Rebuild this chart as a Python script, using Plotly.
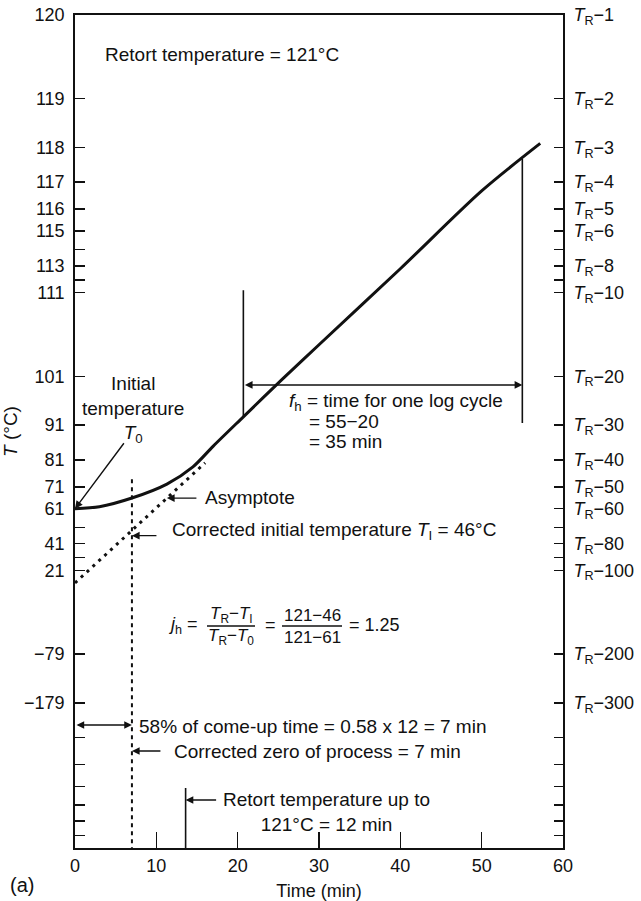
import numpy as np
import plotly.graph_objects as go

T_R = 121  # retort temperature, °C

# Heat-penetration curve (time in min, temperature in °C)
curve_time = [0, 3, 7, 11.3, 14.5, 17, 20.7, 25.4, 30, 40, 50, 57.2]
curve_temp = [61, 62.0, 66.1, 72.1, 78.6, 85.3, 93.0, 100.4, 105.6, 112.8, 116.7, 118.1]

# Asymptote (extrapolated straight-line part of the curve)
asym_time = [0, 16]
asym_temp = [10, 80]

# Vertical reference lines
axis_bottom_temp = T_R - 1000
corr_zero_time = [7, 7]
corr_zero_temp = [74, axis_bottom_temp]
retort_up_time = [13.6, 13.6]
retort_up_temp = [-487, axis_bottom_temp]
fh_left_time = [20.7, 20.7]
fh_left_temp = [111.2, 93.0]
fh_right_time = [55, 55]
fh_right_temp = [117.7, 91.5]
fh_arrow_temp = 99.5
T0 = 61
TI = 46
asym_arrow_time = 11.3

# Axis ticks
tick_diff = [1, 2, 3, 4, 5, 6, 7, 8, 9, 10, 20, 30, 40, 50, 60, 70, 80, 90, 100,
             200, 300, 400, 500, 600, 700, 800, 900]
left_tick_labels = ["120", "119", "118", "117", "116", "115", "", "113", "", "111",
                    "101", "91", "81", "71", "61", "", "41", "", "21",
                    "−79", "−179", "", "", "", "", "", ""]
right_tick_numbers = ["1", "2", "3", "4", "5", "6", "", "8", "", "10",
                      "20", "30", "40", "50", "60", "", "80", "", "100",
                      "200", "300", "", "", "", "", "", ""]
right_tick_labels = [("<i>T</i><sub>R</sub>−" + n) if n else "" for n in right_tick_numbers]
time_ticks = [0, 10, 20, 30, 40, 50, 60]
time_tick_labels = ["0", "10", "20", "30", "40", "50", "60"]

INK = "#111111"
FONT = "Liberation Sans, Arial, Helvetica, sans-serif"

def diff(temps):
    return [T_R - t for t in temps]

fig = go.Figure()

# main heating curve
fig.add_trace(go.Scatter(x=curve_time, y=diff(curve_temp), mode="lines",
                         line=dict(color=INK, width=3, shape="spline", smoothing=0.8),
                         hoverinfo="skip"))
# asymptote
fig.add_trace(go.Scatter(x=asym_time, y=diff(asym_temp), mode="lines",
                         line=dict(color=INK, width=3, dash="3px,5px"), hoverinfo="skip"))
# corrected zero (dotted vertical)
fig.add_trace(go.Scatter(x=corr_zero_time, y=diff(corr_zero_temp), mode="lines",
                         line=dict(color=INK, width=2, dash="4px,4px"), hoverinfo="skip"))
# retort-up line
fig.add_trace(go.Scatter(x=retort_up_time, y=diff(retort_up_temp), mode="lines",
                         line=dict(color=INK, width=1.6), hoverinfo="skip"))
# fh verticals
fig.add_trace(go.Scatter(x=fh_left_time, y=diff(fh_left_temp), mode="lines",
                         line=dict(color=INK, width=1.6), hoverinfo="skip"))
fig.add_trace(go.Scatter(x=fh_right_time, y=diff(fh_right_temp), mode="lines",
                         line=dict(color=INK, width=1.6), hoverinfo="skip"))
# invisible trace to carry the right-hand axis
fig.add_trace(go.Scatter(x=curve_time, y=diff(curve_temp), yaxis="y2", mode="lines",
                         line=dict(color="rgba(0,0,0,0)", width=0), hoverinfo="skip"))

PL, PR, PT, PB = 75, 563, 15, 848
W, H = 641, 901

def px(x):
    return (x - PL) / (PR - PL)

def py(y):
    return (PB - y) / (PB - PT)

def txt(text, x, y, anchor="left", size=19, align="left"):
    fig.add_annotation(text=text, x=px(x), y=py(y), xref="paper", yref="paper",
                       xanchor=anchor, yanchor="middle", showarrow=False, align=align,
                       font=dict(size=size, color=INK, family=FONT))

ARROW = dict(showarrow=True, arrowhead=2, arrowsize=1.1, arrowwidth=1.4, arrowcolor=INK, text="")

# arrows pointing at data features
fig.add_annotation(x=0, y=np.log10(T_R - T0), xref="x", yref="y", ax=50, ay=-67, **ARROW)
asym_log = np.interp(asym_arrow_time, asym_time, np.log10(diff(asym_temp)))
fig.add_annotation(x=asym_arrow_time, y=asym_log, xref="x", yref="y", ax=31, ay=0, **ARROW)
fig.add_annotation(x=corr_zero_time[0], y=np.log10(T_R - TI), xref="x", yref="y", ax=26, ay=0, **ARROW)
fig.add_annotation(x=fh_right_time[0], y=np.log10(T_R - fh_arrow_temp), xref="x", yref="y",
                   ax=fh_left_time[0], axref="x", ay=np.log10(T_R - fh_arrow_temp), ayref="y",
                   arrowside="end+start", **ARROW)
fig.add_annotation(x=corr_zero_time[0], y=py(725), xref="x", yref="paper",
                   ax=0, axref="x", ay=0, ayref="pixel", arrowside="end+start", **ARROW)
fig.add_annotation(x=corr_zero_time[0], y=py(751), xref="x", yref="paper", ax=30, ay=0, **ARROW)
fig.add_annotation(x=retort_up_time[0], y=py(800), xref="x", yref="paper", ax=32, ay=0, **ARROW)

# text
txt("Retort temperature = 121°C", 103, 55)
txt("Initial<br>temperature<br><i>T</i><sub>0</sub>", 133, 410, anchor="center", align="center")
txt("Asymptote", 203, 497)
txt("Corrected initial temperature <i>T</i><sub>I</sub> = 46°C", 170, 531)
txt("<i>f</i><sub>h</sub> = time for one log cycle", 287, 402)
txt("= 55−20", 307, 422)
txt("= 35 min", 307, 442)
txt("58% of come-up time = 0.58 x 12 = 7 min", 137, 726)
txt("Corrected zero of process = 7 min", 172, 751)
txt("Retort temperature up to<br>121°C = 12 min", 326, 812, anchor="center", align="center")
txt("(a)", 8, 885, size=20)

# j_h formula
txt("<i>j</i><sub>h</sub> =", 166, 625, size=18)
txt("<i>T</i><sub>R</sub>−<i>T</i><sub>I</sub>", 231, 615, anchor="center", size=17)
txt("<i>T</i><sub>R</sub>−<i>T</i><sub>0</sub>", 231, 637, anchor="center", size=17)
txt("=", 270, 625, anchor="center", size=18)
txt("121−46", 312, 615, anchor="center", size=17)
txt("121−61", 312, 637, anchor="center", size=17)
txt("= 1.25", 347, 625, size=18)
for x0, x1 in [(207, 255), (282, 342)]:
    fig.add_shape(type="line", xref="paper", yref="paper", x0=px(x0), x1=px(x1),
                  y0=py(626), y1=py(626), line=dict(color=INK, width=1.3))

axis_common = dict(showgrid=False, zeroline=False, showline=True, linecolor=INK,
                   linewidth=1.8, tickcolor=INK, tickwidth=1.5, automargin=False,
                   tickfont=dict(size=18, color=INK, family=FONT))

fig.update_layout(
    width=W, height=H,
    margin=dict(l=PL, r=W - PR, t=PT, b=H - PB, autoexpand=False),
    plot_bgcolor="white", paper_bgcolor="white",
    font=dict(family=FONT, size=18, color=INK),
    showlegend=False, hovermode=False,
    xaxis=dict(range=[0, 60], tickmode="array", tickvals=time_ticks, ticktext=time_tick_labels,
               ticks="inside", ticklen=16, mirror=True, ticklabelstandoff=1,
               title=dict(text="Time (min)", standoff=10, font=dict(size=18, color=INK)),
               **axis_common),
    yaxis=dict(type="log", range=[3, 0], tickmode="array", tickvals=tick_diff,
               ticktext=left_tick_labels, ticks="inside", ticklen=10, ticklabelstandoff=5,
               title=dict(text="<i>T</i> (°C)", standoff=5, font=dict(size=19, color=INK)),
               **axis_common),
    yaxis2=dict(type="log", range=[3, 0], overlaying="y", side="right", tickmode="array",
                tickvals=tick_diff, ticktext=right_tick_labels, ticks="inside", ticklen=9,
                ticklabelstandoff=5, **axis_common),
)

fig.write_html("out.html", config={"displayModeBar": False, "staticPlot": True},
               post_script="document.body.style.margin='0px';document.body.style.overflow='hidden';")
